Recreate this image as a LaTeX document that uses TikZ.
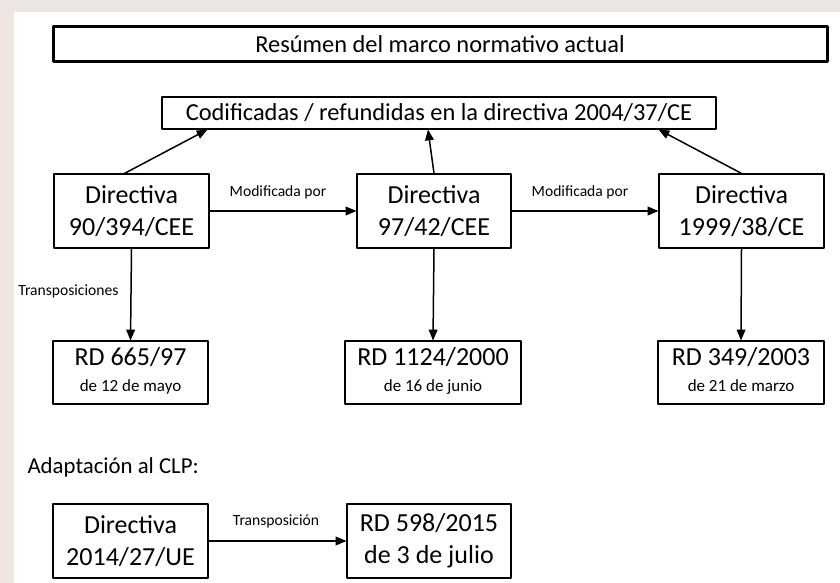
\documentclass[tikz,border=0pt]{standalone}
\usepackage{fontspec}
\setmainfont{Carlito}
\usepackage{pgf,tikz}
\usetikzlibrary{arrows}
\definecolor{fondo}{RGB}{237,229,223}
\tikzset{
  caja/.style={draw=black,line width=1.2pt,rectangle,align=center,inner sep=0pt},
  grande/.style={font=\fontsize{26}{32}\selectfont},
  media/.style={font=\fontsize{24.4}{28}\selectfont},
  etiqueta/.style={font=\fontsize{15.6}{18}\selectfont}
}
\begin{document}
\begin{tikzpicture}[line cap=round,line join=round,>=triangle 45,x=1pt,y=-1pt]
\useasboundingbox (0,0) rectangle (840,583);
\fill [color=fondo] (0,0) rectangle (840,583);
\fill [color=white] (14,12) rectangle (840,583);
\draw (440,44.5) node[caja,media,line width=3pt,minimum width=774pt,minimum height=35pt] (titulo) {Resúmen del marco normativo actual};
\draw (439,113) node[caja,media,minimum width=554pt,minimum height=32pt] (cod) {Codificadas / refundidas en la directiva 2004/37/CE};
\draw (131.5,211) node[caja,grande,minimum width=155pt,minimum height=74pt] (dirA) {Directiva\\90/394/CEE};
\draw (434,211) node[caja,grande,minimum width=154pt,minimum height=74pt] (dirB) {Directiva\\97/42/CEE};
\draw (741.5,211) node[caja,grande,minimum width=165pt,minimum height=74pt] (dirC) {Directiva\\1999/38/CE};
\draw (130.5,372.5) node[caja,grande,minimum width=155pt,minimum height=63pt] (rdA) {RD 665/97\\[-6pt]{\fontsize{17}{20}\selectfont de 12 de mayo\strut}};
\draw (433,372.5) node[caja,grande,minimum width=176pt,minimum height=63pt] (rdB) {RD 1124/2000\\[-6pt]{\fontsize{17}{20}\selectfont de 16 de junio\strut}};
\draw (741,372.5) node[caja,grande,minimum width=166pt,minimum height=63pt] (rdC) {RD 349/2003\\[-6pt]{\fontsize{17}{20}\selectfont de 21 de marzo\strut}};
\draw (130.5,541) node[caja,grande,minimum width=155pt,minimum height=74pt] (dirD) {Directiva\\2014/27/UE};
\draw (429,541) node[caja,grande,minimum width=164pt,minimum height=74pt] (rdD) {RD 598/2015\\de 3 de julio};
\draw (24,467) node[anchor=west,font=\fontsize{22.8}{26}\selectfont] (clp) {Adaptación al CLP:};
\draw [line width=1.5pt,->] ([xshift=-7pt]dirA.north)-- ([xshift=46pt]cod.south west);
\draw [line width=1.5pt,->] (dirB.north)-- ([xshift=-11pt]cod.south);
\draw [line width=1.5pt,->] (dirC.north)-- ([xshift=-58pt]cod.south east);
\draw [line width=1.5pt,->] (dirA.east)-- (dirB.west);
\draw [line width=1.5pt,->] (dirB.east)-- (dirC.west);
\draw [line width=1.5pt,->] (dirA.south)-- (rdA.north);
\draw [line width=1.5pt,->] (dirB.south)-- (rdB.north);
\draw [line width=1.5pt,->] (dirC.south)-- (rdC.north);
\draw [line width=1.5pt,->] (dirD.east)-- (rdD.west);
\draw (278,192) node[etiqueta] (modA) {Modificada por};
\draw (580,192) node[etiqueta] (modB) {Modificada por};
\draw (122,291) node[etiqueta,anchor=east] (trA) {Transposiciones};
\draw (276,521) node[etiqueta] (trB) {Transposición};
\end{tikzpicture}
\end{document}
